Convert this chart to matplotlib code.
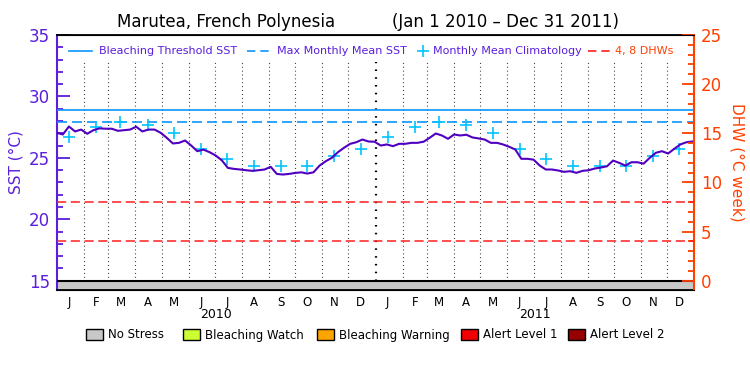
import numpy as np
import pandas as pd
import matplotlib
matplotlib.use('Agg')
import matplotlib.pyplot as plt
from matplotlib.lines import Line2D
from matplotlib.patches import Rectangle
import matplotlib.transforms as mtransforms

# weekly SST readings (deg C) starting 1 Jan 2010
sst = [27.04, 26.90, 27.55, 27.15, 27.30, 26.96, 27.25, 27.40, 27.37, 27.37,
       27.20, 27.25, 27.30, 27.53, 27.15, 27.30, 27.30, 27.04, 26.63, 26.17,
       26.22, 26.41, 26.00, 25.54, 25.67, 25.46, 25.19, 24.80, 24.18, 24.10,
       24.05, 23.99, 23.94, 23.99, 24.05, 24.27, 23.69, 23.64, 23.69, 23.77,
       23.82, 23.72, 23.82, 24.37, 24.72, 25.00, 25.46, 25.82, 26.14, 26.27,
       26.49, 26.33, 26.31, 26.00, 26.09, 25.95, 26.14, 26.14, 26.22, 26.22,
       26.31, 26.63, 26.98, 26.82, 26.55, 26.90, 26.82, 26.88, 26.66, 26.58,
       26.49, 26.22, 26.22, 26.09, 25.90, 25.68, 24.92, 24.92, 24.85, 24.37,
       24.05, 24.05, 23.97, 23.86, 23.91, 23.78, 23.94, 23.99, 24.13, 24.21,
       24.31, 24.78, 24.59, 24.37, 24.64, 24.64, 24.53, 25.00, 25.41, 25.54,
       25.35, 25.73, 26.09, 26.27, 26.33]
sst_dates = pd.date_range('2010-01-01', periods=len(sst), freq='7D')

# monthly mean climatology (Jan..Dec)
clim = [26.7, 27.55, 27.95, 27.7, 27.0, 25.75, 24.9, 24.3, 24.3, 24.35, 25.15, 25.75]
years = [2010, 2011]
mmm = 27.9
threshold = mmm + 1.0
dhw_levels = [4, 8]
month_letters = ['J', 'F', 'M', 'A', 'M', 'J', 'J', 'A', 'S', 'O', 'N', 'D']

stress_labels = ['No Stress', 'Bleaching Watch', 'Bleaching Warning', 'Alert Level 1', 'Alert Level 2']
stress_colors = ['#C8C8C8', '#CCFF33', '#FFA500', '#F00000', '#960000']

purple = '#5A1EDC'
line_purple = '#5000C0'
orange = '#FF4000'
blue = '#0A96FF'
cyan = '#00C3FF'
red = '#FF1E1E'

plt.rcParams['font.family'] = ['DejaVu Sans']

fig = plt.figure(figsize=(7.5, 3.75), dpi=100)
ax = fig.add_axes([56.7 / 750, 85 / 375, 637.6 / 750, 255 / 375])

start = pd.Timestamp('2010-01-01')
end = pd.Timestamp('2012-01-01')
ymin, ymax = 14.24, 35.0
ax.set_xlim(start, end)
ax.set_ylim(ymin, ymax)

# month separators
month_starts = pd.date_range('2010-02-01', '2011-12-01', freq='MS')
for m in month_starts:
    lw = 1.6 if m.month == 1 else 0.8
    ax.vlines(m, 15, 32.8, colors='black', linestyles=(0, (0.7, 2.8)), linewidth=lw, zorder=1)

# no-stress bar
ax.axhspan(ymin, 15, color=stress_colors[0], zorder=2)
ax.axhline(15, color='black', lw=1.5, zorder=3)

ax.axhline(threshold, color=blue, lw=1.2, zorder=3)
ax.axhline(mmm, color=blue, lw=1.2, ls=(0, (6, 3)), zorder=3)

clim_dates = [pd.Timestamp(y, m + 1, 15) for y in years for m in range(12)]
ax.plot(clim_dates, clim * len(years), ls='none', marker='+', ms=8, mew=1.2, color=cyan, zorder=4)

ax.plot(sst_dates, sst, color=line_purple, lw=1.5, zorder=5)

# left axis
ax.set_yticks([15, 20, 25, 30, 35])
ax.set_yticks(np.arange(15, 35, 1), minor=True)
ax.tick_params(axis='y', which='major', direction='in', length=9, width=1.3,
               colors=purple, labelsize=12, pad=5)
ax.tick_params(axis='y', which='minor', direction='in', length=4.5, width=1.3, colors=purple)
ax.set_ylabel('SST (°C)', color=purple, fontsize=11, labelpad=4)
ax.spines['left'].set_color(purple)
ax.spines['left'].set_linewidth(1.5)
ax.spines['right'].set_visible(False)
ax.spines['top'].set_linewidth(1.3)
ax.spines['bottom'].set_linewidth(1.3)

# x month letters
mid_months = [pd.Timestamp(y, m + 1, 15) for y in years for m in range(12)]
ax.set_xticks(mid_months)
ax.set_xticklabels(month_letters * len(years))
ax.tick_params(axis='x', length=0, labelsize=8.5, pad=4)
trans = mtransforms.blended_transform_factory(ax.transData, ax.transAxes)
for y in years:
    ax.text(pd.Timestamp(y, 7, 2), -0.098, str(y), transform=trans,
            ha='center', va='center', fontsize=9)

# right DHW axis
ax2 = ax.twinx()
ax2.set_ylim((ymin - 15) * 1.25, (ymax - 15) * 1.25)
for d in dhw_levels:
    ax2.axhline(d, color=red, lw=1.1, ls=(0, (6, 3)), zorder=3)
ax2.set_yticks([0, 5, 10, 15, 20, 25])
ax2.set_yticks(np.arange(0, 26, 1), minor=True)
ax2.tick_params(axis='y', which='major', direction='in', length=9, width=1.3,
                colors=orange, labelsize=12, pad=5)
ax2.tick_params(axis='y', which='minor', direction='in', length=4.5, width=1.3, colors=orange)
ax2.spines['right'].set_color(orange)
ax2.spines['right'].set_linewidth(1.5)
ax2.spines['left'].set_visible(False)
ax2.set_ylabel('DHW (°C week)', color=orange, fontsize=11, rotation=270, labelpad=16)

# title
fig.text(226 / 750, 1 - 22 / 375, 'Marutea, French Polynesia', ha='center', va='center', fontsize=12)
fig.text(505 / 750, 1 - 22 / 375, '(Jan 1 2010 \u2013 Dec 31 2011)', ha='center', va='center', fontsize=12)

# top legend
ly = 1 - 51 / 375
def fx(px):
    return px / 750
fig.add_artist(Line2D([fx(69), fx(92)], [ly, ly], color=blue, lw=1.2))
fig.text(fx(99), ly, 'Bleaching Threshold SST', color=purple, fontsize=8, va='center')
fig.add_artist(Line2D([fx(247), fx(270)], [ly, ly], color=blue, lw=1.2, ls=(0, (5, 3))))
fig.text(fx(277), ly, 'Max Monthly Mean SST', color=purple, fontsize=8, va='center')
fig.add_artist(Line2D([fx(423)], [ly], color=cyan, marker='+', ms=8, mew=1.2, ls='none'))
fig.text(fx(433), ly, 'Monthly Mean Climatology', color=purple, fontsize=8, va='center')
fig.add_artist(Line2D([fx(588), fx(611)], [ly, ly], color=red, lw=1.2, ls=(0, (5, 3))))
fig.text(fx(615), ly, '4, 8 DHWs', color=orange, fontsize=8, va='center')

# bottom stress legend
box_x = [86, 183, 317, 461, 568]
by = 1 - 335 / 375
for bx, lab, col in zip(box_x, stress_labels, stress_colors):
    fig.add_artist(Rectangle((fx(bx), 1 - 340 / 375), 17 / 750, 11 / 375,
                             transform=fig.transFigure, facecolor=col, edgecolor='black', lw=1))
    fig.text(fx(bx + 22), by, lab, fontsize=8.5, va='center')

fig.savefig('out.png', dpi=100)
